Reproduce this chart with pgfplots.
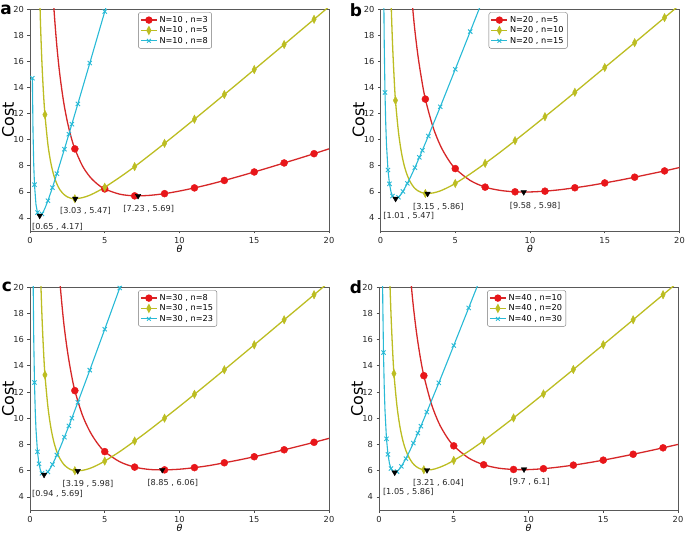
\documentclass[border=0pt]{standalone}
\usepackage{pgfplots}
\pgfplotsset{compat=1.18}
\usepackage{fontspec}
\setmainfont{DejaVu Sans}
\definecolor{redline}{RGB}{214,39,40}
\definecolor{redmark}{RGB}{232,22,26}
\definecolor{olivec}{RGB}{188,189,34}
\definecolor{cyanc}{RGB}{40,186,214}
\tikzset{ann/.style={font=\fontsize{8.2}{9}\selectfont, text=black!85, inner sep=0pt}}
\pgfplotsset{
 panel/.style={
  width=299bp, height=222bp, scale only axis,
  xmin=0, xmax=20, ymin=3, ymax=20,
  xtick={0,5,10,15,20}, ytick={4,6,...,20},
  tick align=outside, tick pos=left, major tick length=2.5bp,
  every tick/.style={black!70, line width=0.6bp},
  axis line style={black!65, line width=0.9bp},
  /pgf/number format/assume math mode=true,
  ticklabel style={font=\fontsize{8.3}{9}\selectfont, text=black!85},
  xlabel={\itshape θ}, ylabel={Cost},
  every axis x label/.style={at={(axis description cs:0.5,0)}, yshift=-17.5bp, anchor=center, font=\fontsize{9.5}{11}\selectfont},
  every axis y label/.style={at={(axis description cs:0,0.5)}, xshift=-22bp, rotate=90, anchor=center, font=\fontsize{16}{18}\selectfont},
  legend style={at={(axis description cs:0.362,0.985)}, anchor=north west, draw=black!55, rounded corners=2bp, font=\fontsize{8.2}{9}\selectfont, inner sep=1.8bp, row sep=-1.2bp, cells={anchor=west}},
  legend image code/.code={\draw[mark repeat=2,mark phase=2,#1] plot coordinates {(0bp,0bp) (8bp,0bp) (16bp,0bp)};},
 },
 redL/.style={redline, line width=1.3bp, smooth, no marks, forget plot},
 yelL/.style={olivec, line width=1.3bp, smooth, no marks, forget plot},
 cyaL/.style={cyanc, line width=1.1bp, no marks, forget plot},
 redM/.style={only marks, mark=*, mark size=3.5bp, mark options={fill=redmark, draw=redmark}, forget plot},
 yelM/.style={only marks, mark=diamond*, mark size=4.2bp, mark options={fill=olivec, draw=olivec, xscale=0.7}, forget plot},
 cyaM/.style={only marks, mark=x, mark size=3bp, cyanc, mark options={line width=0.9bp}, forget plot},
 minM/.style={only marks, mark=triangle*, mark size=3.2bp, black, mark options={rotate=180}, forget plot},
}
\newcommand{\legimgs}{%
 \addlegendimage{redline, line width=1.3bp, mark=*, mark size=3bp, mark options={fill=redmark, draw=redmark}}
 \addlegendimage{olivec, line width=1.3bp, mark=diamond*, mark size=3.5bp, mark options={fill=olivec, draw=olivec, xscale=0.7}}
 \addlegendimage{cyanc, line width=1.1bp, mark=x, mark size=2.6bp, mark options={line width=0.9bp}}
}
\begin{document}
\begin{tikzpicture}
\path[use as bounding box] (0,0) rectangle (685bp,533bp);
\node[font=\fontsize{17}{18}\selectfont\bfseries] at (6bp,523bp) {a};
\node[font=\fontsize{17}{18}\selectfont\bfseries] at (356bp,523bp) {b};
\node[font=\fontsize{17}{18}\selectfont\bfseries] at (7bp,246bp) {c};
\node[font=\fontsize{17}{18}\selectfont\bfseries] at (356bp,246bp) {d};

% ---------------- panel a
\begin{axis}[panel, at={(30bp,302bp)}, anchor=south west]
\legimgs
\legend{{N=10 , n=3},{N=10 , n=5},{N=10 , n=8}}
\addplot[redL] table {
1.4 24.07
1.6 20.04
1.8 17.12
2.0 14.93
2.25 12.88
2.5 11.36
2.75 10.19
3 9.29
3.5 8.00
4 7.16
4.5 6.60
5 6.22
6 5.82
7 5.69
8 5.73
9 5.86
10 6.06
11 6.30
12 6.57
13 6.87
14 7.19
15 7.52
16 7.86
17 8.21
18 8.56
19 8.92
20 9.29
};
\addplot[redM] coordinates {(3,9.29)(5,6.22)(7,5.69)(9,5.86)(11,6.30)(13,6.87)(15,7.52)(17,8.21)(19,8.92)};
\addplot[yelL] table {
0.6 23.49
0.7 18.96
0.8 15.85
0.9 13.59
1.0 11.91
1.2 9.61
1.4 8.18
1.6 7.23
1.8 6.60
2.0 6.16
2.25 5.82
2.5 5.61
2.75 5.50
3 5.47
3.5 5.55
4 5.74
4.5 6.02
5 6.35
6 7.11
7 7.93
8 8.81
9 9.71
10 10.63
11 11.56
12 12.50
13 13.45
14 14.40
15 15.36
16 16.32
17 17.28
18 18.25
19 19.21
20 20.18
};
\addplot[yelM] coordinates {(1,11.91)(3,5.47)(5,6.35)(7,7.93)(9,9.71)(11,11.56)(13,13.45)(15,15.36)(17,17.28)(19,19.21)};
\addplot[cyaL] table {
0.16 14.7
0.2 10.74
0.25 8.07
0.3 6.55
0.4 5.02
0.5 4.41
0.6 4.19
0.65 4.17
0.7 4.19
0.8 4.31
0.9 4.50
1.0 4.74
1.2 5.32
1.5 6.32
1.8 7.39
2.3 9.26
2.6 10.41
2.8 11.18
3.2 12.73
4 15.86
5 19.80
6 23.75
};
\addplot[cyaM] coordinates {(0.16,14.7)(0.3,6.55)(0.5,4.41)(0.8,4.31)(1.2,5.32)(1.5,6.32)(1.8,7.39)(2.3,9.26)(2.6,10.41)(2.8,11.18)(3.2,12.73)(4,15.86)(5,19.80)};
\addplot[minM] coordinates {(7.23,5.69)(3.03,5.47)(0.65,4.17)};
\node[ann] at (axis cs:1.84,3.33) {[0.65 , 4.17]};
\node[ann] at (axis cs:3.71,4.53) {[3.03 , 5.47]};
\node[ann] at (axis cs:7.94,4.66) {[7.23 , 5.69]};
\end{axis}

% ---------------- panel b
\begin{axis}[panel, at={(380.5bp,302bp)}, anchor=south west]
\legimgs
\legend{{N=20 , n=5},{N=20 , n=10},{N=20 , n=15}}
\addplot[redL] table {
1.8 25.55
2.0 22.12
2.25 18.89
2.5 16.47
2.75 14.61
3 13.10
3.5 11.00
4 9.55
4.5 8.53
5 7.78
6 6.87
7 6.36
8 6.11
9 6.00
10 5.99
11 6.05
12 6.16
13 6.31
14 6.48
15 6.68
16 6.89
17 7.12
18 7.36
19 7.60
20 7.86
};
\addplot[redM] coordinates {(3,13.10)(5,7.78)(7,6.36)(9,6.00)(11,6.05)(13,6.31)(15,6.68)(17,7.12)(19,7.60)};
\addplot[yelL] table {
0.6 25.86
0.7 20.89
0.8 17.47
0.9 14.98
1.0 13.00
1.2 10.59
1.4 9.01
1.6 7.95
1.8 7.24
2.0 6.74
2.25 6.32
2.5 6.08
2.75 5.94
3 5.87
3.5 5.91
4 6.07
4.5 6.33
5 6.64
6 7.37
7 8.18
8 9.03
9 9.92
10 10.83
11 11.75
12 12.68
13 13.62
14 14.57
15 15.52
16 16.47
17 17.42
18 18.38
19 19.34
20 20.30
};
\addplot[yelM] coordinates {(1,13.00)(3,5.87)(5,6.64)(7,8.18)(9,9.92)(11,11.75)(13,13.62)(15,15.52)(17,17.42)(19,19.34)};
\addplot[cyaL] table {
0.2 23.52
0.25 17.29
0.3 13.61
0.35 11.24
0.4 9.63
0.5 7.67
0.6 6.61
0.7 6.01
0.8 5.68
0.9 5.53
1.0 5.47
1.2 5.58
1.4 5.85
1.5 6.03
1.8 6.65
2.0 7.11
2.3 7.85
2.6 8.64
2.8 9.18
3.2 10.27
4 12.51
5 15.38
6 18.27
7 21.17
};
\addplot[cyaM] coordinates {(0.3,13.61)(0.5,7.67)(0.6,6.61)(0.8,5.68)(1.2,5.58)(1.5,6.03)(1.8,6.65)(2.3,7.85)(2.6,8.64)(2.8,9.18)(3.2,10.27)(4,12.51)(5,15.38)(6,18.27)};
\addplot[minM] coordinates {(9.58,5.98)(3.15,5.86)(1.01,5.47)};
\node[ann] at (axis cs:1.89,4.15) {[1.01 , 5.47]};
\node[ann] at (axis cs:3.87,4.86) {[3.15 , 5.86]};
\node[ann] at (axis cs:10.34,4.92) {[9.58 , 5.98]};
\end{axis}

% ---------------- panel c
\begin{axis}[panel, at={(30bp,23bp)}, anchor=south west, height=223bp]
\legimgs
\legend{{N=30 , n=8},{N=30 , n=15},{N=30 , n=23}}
\addplot[redL] table {
1.8 23.67
2.0 20.40
2.25 17.35
2.5 15.15
2.75 13.45
3 12.10
3.5 10.25
4 9.00
4.5 8.10
5 7.45
6 6.68
7 6.27
8 6.09
9 6.06
10 6.11
11 6.23
12 6.39
13 6.60
14 6.82
15 7.06
16 7.32
17 7.59
18 7.87
19 8.16
20 8.46
};
\addplot[redM] coordinates {(3,12.10)(5,7.45)(7,6.27)(9,6.06)(11,6.23)(13,6.60)(15,7.06)(17,7.59)(19,8.16)};
\addplot[yelL] table {
0.6 26.40
0.7 21.30
0.8 17.80
0.9 15.25
1.0 13.30
1.2 10.85
1.4 9.25
1.6 8.17
1.8 7.43
2.0 6.92
2.25 6.49
2.5 6.23
2.75 6.07
3 6.00
3.5 6.02
4 6.17
4.5 6.42
5 6.73
6 7.45
7 8.26
8 9.11
9 10.00
10 10.90
11 11.82
12 12.75
13 13.69
14 14.64
15 15.59
16 16.54
17 17.50
18 18.45
19 19.41
20 20.37
};
\addplot[yelM] coordinates {(1,13.30)(3,6.00)(5,6.73)(7,8.26)(9,10.00)(11,11.82)(13,13.69)(15,15.59)(17,17.50)(19,19.41)};
\addplot[cyaL] table {
0.2 21.66
0.25 16.04
0.3 12.72
0.35 10.59
0.4 9.16
0.5 7.44
0.6 6.52
0.7 6.03
0.8 5.79
0.9 5.70
1.0 5.70
1.2 5.91
1.4 6.26
1.5 6.47
1.8 7.19
2.0 7.71
2.3 8.55
2.6 9.41
2.8 10.00
3.2 11.21
4 13.66
5 16.78
6 19.92
7 23.08
};
\addplot[cyaM] coordinates {(0.3,12.72)(0.5,7.44)(0.6,6.52)(0.8,5.79)(1.2,5.91)(1.5,6.47)(1.8,7.19)(2.3,8.55)(2.6,9.41)(2.8,10.00)(3.2,11.21)(4,13.66)(5,16.78)(6,19.92)};
\addplot[minM] coordinates {(8.85,6.06)(3.19,5.98)(0.94,5.69)};
\node[ann] at (axis cs:1.84,4.23) {[0.94 , 5.69]};
\node[ann] at (axis cs:3.88,4.99) {[3.19 , 5.98]};
\node[ann] at (axis cs:9.55,5.07) {[8.85 , 6.06]};
\end{axis}

% ---------------- panel d
\begin{axis}[panel, at={(379bp,23bp)}, anchor=south west, height=223bp]
\legimgs
\legend{{N=40 , n=10},{N=40 , n=20},{N=40 , n=30}}
\addplot[redL] table {
1.8 25.73
2.0 22.28
2.25 19.04
2.5 16.60
2.75 14.72
3 13.24
3.5 11.10
4 9.64
4.5 8.63
5 7.89
6 6.96
7 6.45
8 6.19
9 6.09
10 6.08
11 6.15
12 6.27
13 6.42
14 6.60
15 6.80
16 7.02
17 7.25
18 7.49
19 7.74
20 8.00
};
\addplot[redM] coordinates {(3,13.24)(5,7.89)(7,6.45)(9,6.09)(11,6.15)(13,6.42)(15,6.80)(17,7.25)(19,7.74)};
\addplot[yelL] table {
0.6 26.60
0.7 21.50
0.8 18.00
0.9 15.40
1.0 13.40
1.2 10.95
1.4 9.35
1.6 8.27
1.8 7.53
2.0 7.02
2.25 6.57
2.5 6.30
2.75 6.14
3 6.07
3.5 6.07
4 6.23
4.5 6.47
5 6.78
6 7.48
7 8.28
8 9.14
9 10.02
10 10.93
11 11.85
12 12.78
13 13.71
14 14.66
15 15.60
16 16.55
17 17.50
18 18.46
19 19.41
20 20.37
};
\addplot[yelM] coordinates {(1,13.40)(3,6.07)(5,6.78)(7,8.28)(9,10.02)(11,11.85)(13,13.71)(15,15.60)(17,17.50)(19,19.41)};
\addplot[cyaL] table {
0.2 25.89
0.25 19.06
0.3 15.00
0.35 12.38
0.4 10.61
0.5 8.43
0.6 7.24
0.7 6.55
0.8 6.16
0.9 5.95
1.0 5.88
1.2 5.93
1.4 6.17
1.5 6.33
1.8 6.92
2.0 7.37
2.3 8.10
2.6 8.86
2.8 9.39
3.2 10.47
4 12.69
5 15.54
6 18.41
7 21.29
};
\addplot[cyaM] coordinates {(0.3,15.00)(0.5,8.43)(0.6,7.24)(0.8,6.16)(1.2,5.93)(1.5,6.33)(1.8,6.92)(2.3,8.10)(2.6,8.86)(2.8,9.39)(3.2,10.47)(4,12.69)(5,15.54)(6,18.41)};
\addplot[minM] coordinates {(9.7,6.1)(3.21,6.04)(1.05,5.86)};
\node[ann] at (axis cs:1.96,4.35) {[1.05 , 5.86]};
\node[ann] at (axis cs:3.98,5.07) {[3.21 , 6.04]};
\node[ann] at (axis cs:10.08,5.14) {[9.7 , 6.1]};
\end{axis}
\end{tikzpicture}
\end{document}
